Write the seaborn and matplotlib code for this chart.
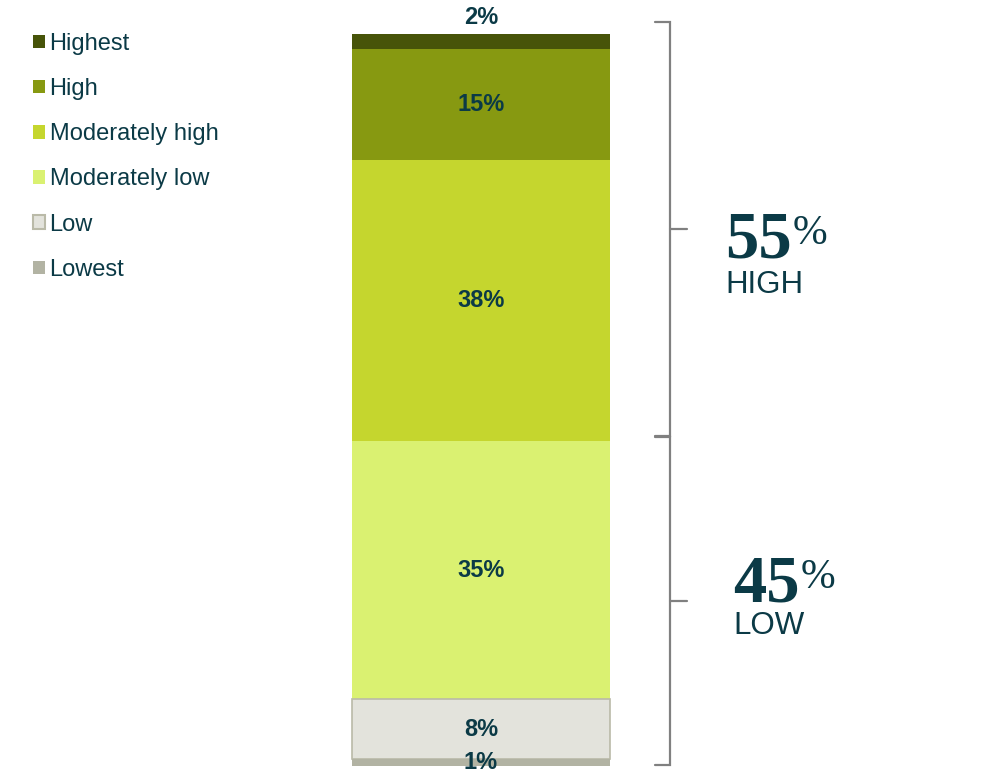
import matplotlib
matplotlib.use("Agg")
import matplotlib.pyplot as plt
import seaborn as sns
import pandas as pd
from matplotlib.patches import Patch

# Score bands, listed from the top of the stack down
categories = ["Highest", "High", "Moderately high", "Moderately low", "Low", "Lowest"]
shares = [2, 15, 38, 35, 8, 1]
colors = ["#475409", "#879911", "#c5d62e", "#daf171", "#e3e3dc", "#b2b3a3"]
edge_colors = ["none", "none", "none", "none", "#babaa8", "none"]

# Summary groups shown beside the bar
group_names = ["HIGH", "LOW"]
group_totals = ["55", "45"]
group_members = [["Highest", "High", "Moderately high"],
                 ["Moderately low", "Low", "Lowest"]]

TEXT = "#0b3a46"
BRACKET = "#808080"

sns.set_theme(style="white")
plt.rcParams["font.family"] = ["Liberation Sans", "DejaVu Sans"]

fig = plt.figure(figsize=(9.93, 7.77), dpi=100)
ax = fig.add_axes([0, 0, 1, 1])

df = pd.DataFrame({"band": categories, "share": shares, "column": ["All"] * len(categories)})

# cumulative bottoms, stacking from the lowest band upward
bottoms = {}
running = 0
for cat, val in zip(reversed(categories), reversed(shares)):
    bottoms[cat] = running
    running += val
total = running

for i, cat in enumerate(categories):
    sub = df[df["band"] == cat]
    sns.barplot(data=sub, x="column", y="share", bottom=bottoms[cat],
                color=colors[i], saturation=1, width=0.8, ax=ax,
                edgecolor=edge_colors[i],
                linewidth=1.2 if edge_colors[i] != "none" else 0,
                err_kws={"linewidth": 0})

# value labels; the thin top band gets its label above the bar
for i, (cat, val) in enumerate(zip(categories, shares)):
    if i == 0:
        y = bottoms[cat] + val + 2.2
    else:
        y = bottoms[cat] + val / 2
    ax.text(0, y, f"{val}%", ha="center", va="center", fontsize=17,
            fontweight="bold", color=TEXT)

ax.set_xlim(-1.4915, 1.5876)
ax.set_ylim(-1.49, 103.6)
ax.axis("off")

# brackets grouping the bands
bx, left_tick, right_tick = 0.586, 0.54, 0.64
for g, members in enumerate(group_members):
    lo = min(bottoms[m] for m in members)
    hi = max(bottoms[m] + shares[categories.index(m)] for m in members)
    if g == 0:
        lo_b, hi_b = lo + 0.6, hi + 1.6
    else:
        lo_b, hi_b = lo + 0.15, hi + 0.5
    ax.plot([left_tick, bx, bx, left_tick], [hi_b, hi_b, lo_b, lo_b],
            color=BRACKET, lw=1.6, solid_joinstyle="miter", clip_on=False)
    mid = (lo_b + hi_b) / 2
    ax.plot([bx, right_tick], [mid, mid], color=BRACKET, lw=1.6)

# group totals
serif = ["Liberation Serif", "DejaVu Serif"]
big_pos = [(725, 257, 293), (733, 601, 634)]
for (px, base_num, base_word), num, word in zip(big_pos, group_totals, group_names):
    t = fig.text(px / 993, 1 - base_num / 777, num, fontsize=48,
                 fontweight="bold", family=serif,
                 color=TEXT, va="baseline", ha="left")
    ax.annotate("%", xy=(1, 1), xycoords=t, xytext=(0.5, -3),
                textcoords="offset points", va="top", ha="left",
                fontsize=30, family=serif, color=TEXT)
    fig.text(px / 993, 1 - base_word / 777, word, fontsize=22.5,
             color=TEXT, va="baseline", ha="left")

# legend
handles = [Patch(facecolor=c, edgecolor=e, linewidth=(1.5 if e != "none" else 0))
           for c, e in zip(colors, edge_colors)]
leg = fig.legend(handles, categories, loc="upper left",
                 bbox_to_anchor=(33 / 993, 1 - 33 / 777), frameon=False,
                 fontsize=17, handlelength=0.5, handleheight=0.5,
                 handletextpad=0.2, labelspacing=0.98, borderpad=0,
                 borderaxespad=0)
for txt in leg.get_texts():
    txt.set_color(TEXT)

fig.savefig("out.png", dpi=100)
